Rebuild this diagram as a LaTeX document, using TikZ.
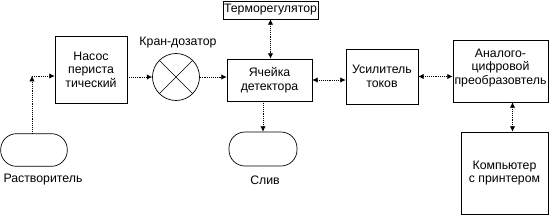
\documentclass[tikz,border=0pt]{standalone}
\usepackage{fontspec}
\setmainfont{Liberation Sans}
\usepackage{tikz}
\usetikzlibrary{arrows.meta}

\tikzset{
  unit/.style={draw,line width=0.6pt,align=center,inner sep=1pt,font=\fontsize{10.5}{11.5}\selectfont},
  tank/.style={draw,line width=0.6pt,rounded corners=0.48cm,minimum width=2cm,minimum height=0.98cm},
  caption/.style={font=\fontsize{10.5}{11.5}\selectfont,inner sep=1pt},
  flow/.style={densely dotted,line width=0.6pt,-{Latex[length=4.5pt,width=4.5pt]}},
  link/.style={densely dotted,line width=0.6pt,{Latex[length=4.5pt,width=4.5pt]}-{Latex[length=4.5pt,width=4.5pt]}}
}

\begin{document}
\begin{tikzpicture}[x=0.03cm,y=-0.03cm]
    \useasboundingbox (0,0) rectangle (549,215);
    % Units of the setup
    \node[unit,minimum width=2.16cm,minimum height=2.01cm] (pump) at (91,69.5) {Насос\\периста\\тический};
    \node[draw,line width=0.6pt,circle,minimum size=1.41cm] (valve) at (176,77) {};
    \draw[line width=0.5pt] (valve.45) -- (valve.225) (valve.135) -- (valve.-45);
    \node[caption] (valvelbl) at (178,43) {Кран-дозатор};
    \node[unit,minimum width=2.55cm,minimum height=1.26cm] (det) at (269.5,80) {Ячейка\\детектора};
    \node[unit,minimum width=2.85cm,minimum height=0.54cm] (thermo) at (270.5,10) {Терморегулятор};
    \node[unit,minimum width=2.16cm,minimum height=1.65cm] (amp) at (382,76.5) {Усилитель\\токов};
    \node[unit,minimum width=2.85cm,minimum height=1.86cm,text depth=8pt] (adc) at (500.5,71) {Аналого-\\цифровой\\преобразовтель};
    \node[unit,minimum width=2.61cm,minimum height=2.46cm] (comp) at (504.5,173) {Компьютер\\с принтером};
    % Vessels
    \node[tank] (solvent) at (34,150) {};
    \node[caption] (solventlbl) at (43,180) {Растворитель};
    \node[tank,minimum width=2.04cm,minimum height=1.02cm] (drain) at (263,149) {};
    \node[caption] (drainlbl) at (265,180) {Слив};
    % Connections
    \coordinate (turn) at (32,76);
    \draw[flow] (turn |- solvent.north) -- (turn);
    \draw[flow] (turn) -- (turn -| pump.west);
    \draw[flow] (pump.east |- valve.west) -- (valve.west);
    \draw[flow] (valve.east) -- (valve.east -| det.west);
    \draw[link] (thermo.south) -- (thermo.south |- det.north);
    \draw[flow] (drain.north |- det.south) -- (drain.north);
    \draw[link] (det.east) -- (det.east -| amp.west);
    \draw[link] (amp.east) -- (amp.east -| adc.west);
    \draw[link] ([xshift=0.36cm]adc.south) -- ([xshift=0.36cm]adc.south |- comp.north);
\end{tikzpicture}
\end{document}
